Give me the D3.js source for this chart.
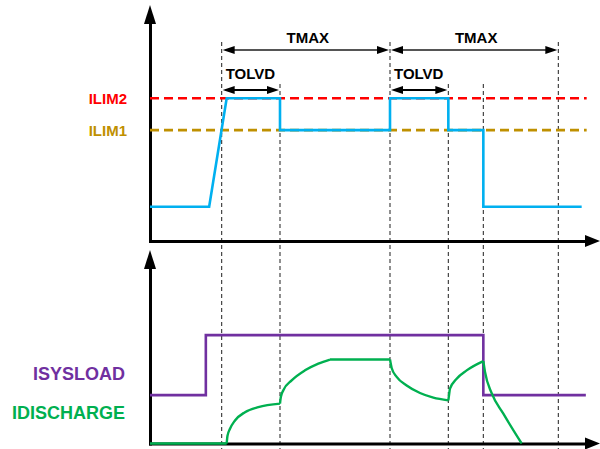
<!DOCTYPE html>
<html>
  <head>
  <title>Current limit timing</title>
  </head>
  <body>
  <style>
    body, html {
      margin: 0;
      padding: 0;
      background: #fff;
    }
    text {
      font-family: "Liberation Sans", Arial, sans-serif;
      font-weight: bold;
    }
  </style>

  <svg id="svg" width="600" height="449"></svg>

  <script src="https://cdn.jsdelivr.net/npm/d3@7"></script>
  <script>
    // time axis is in arbitrary units, current in arbitrary units
    const limitLevels = [
      { name: 'ILIM2', value: 6.05, color: '#ff0000' },
      { name: 'ILIM1', value: 4.7, color: '#bf9000' }
    ]

    // input current (top panel)
    const inputCurrent = [
      [0, 1.45], [3.55, 1.45], [4.6, 6.05], [7.8, 6.05], [7.8, 4.7],
      [14.4, 4.7], [14.4, 6.05], [17.9, 6.05], [17.9, 4.7],
      [20, 4.7], [20, 1.45], [25.9, 1.45]
    ]

    // system load (bottom panel)
    const sysLoad = [
      [0, 2.5], [3.35, 2.5], [3.35, 5.6], [20, 5.6], [20, 2.5], [26.15, 2.5]
    ]

    // battery discharge current, one array per smooth piece
    const discharge = [
      [[0, 0], [4.6, 0]],
      [[4.6, 0], [4.65, 0.4], [4.8, 0.76], [5.1, 1.19], [5.7, 1.62], [6.5, 1.88], [7.8, 2.06]],
      [[7.8, 2.06], [7.85, 2.4], [8.0, 2.75], [8.5, 3.26], [9.3, 3.78], [10.1, 4.13], [10.8, 4.34]],
      [[10.8, 4.34], [14.4, 4.34]],
      [[14.4, 4.34], [14.5, 3.9], [14.8, 3.44], [15.4, 3.0], [16.2, 2.61], [17.0, 2.37], [17.9, 2.23]],
      [[17.9, 2.23], [17.95, 2.55], [18.0, 2.83], [18.4, 3.35], [19.0, 3.78], [20, 4.26]],
      [[20, 4.26], [20.1, 3.7], [20.5, 2.6], [21.2, 1.54], [22.3, 0]]
    ]

    // vertical timing markers
    const markers = [
      { t: 4.3, level: 'tmax' },
      { t: 7.8, level: 'tolvd' },
      { t: 14.4, level: 'tmax' },
      { t: 17.9, level: 'tolvd' },
      { t: 20, level: 'tolvd' },
      { t: 24.5, level: 'tmax' }
    ]

    const spans = [
      { label: 'TMAX', from: 4.3, to: 14.4, kind: 'tmax' },
      { label: 'TMAX', from: 14.4, to: 24.5, kind: 'tmax' },
      { label: 'TOLVD', from: 4.3, to: 7.8, kind: 'tolvd' },
      { label: 'TOLVD', from: 14.4, to: 17.9, kind: 'tolvd' }
    ]

    const seriesLabels = [
      { name: 'ISYSLOAD', color: '#7030a0' },
      { name: 'IDISCHARGE', color: '#00b050' }
    ]

    const svg = d3.select('#svg')

    const xScale = d3.scaleLinear().domain([0, 27]).range([150, 600])
    const yTop = d3.scaleLinear().domain([0, 10]).range([241, 5])
    const yBot = d3.scaleLinear().domain([0, 10]).range([443.5, 250])

    const markerTop = { tmax: 42, tolvd: 84 }
    const spanY = { tmax: 50, tolvd: 90 }
    const labelY = { tmax: 43, tolvd: 78.5 }

    // dashed timing markers, drawn first so everything sits on top
    svg.append('g')
      .selectAll('line')
      .data(markers)
      .join('line')
      .attr('x1', d => xScale(d.t))
      .attr('x2', d => xScale(d.t))
      .attr('y1', d => markerTop[d.level])
      .attr('y2', 449)
      .attr('stroke', '#333')
      .attr('stroke-width', 1.1)
      .attr('stroke-dasharray', '4,3')

    // axes: plain lines from d3 axes, with no ticks
    function drawAxes(yScale, xAxisY, yTopPx) {
      const xAx = d3.axisBottom(xScale.copy().range([150, 588]))
        .tickValues([]).tickSizeOuter(0)
      const yAx = d3.axisLeft(yScale.copy().range([yScale.range()[0], yTopPx + 18]))
        .tickValues([]).tickSizeOuter(0)
      svg.append('g')
        .attr('transform', `translate(0, ${xAxisY})`)
        .call(xAx)
        .select('.domain')
        .attr('stroke', '#000')
        .attr('stroke-width', 3)
        .attr('stroke-linecap', 'square')
      svg.append('g')
        .attr('transform', 'translate(150, 0)')
        .call(yAx)
        .select('.domain')
        .attr('stroke', '#000')
        .attr('stroke-width', 3)
        .attr('stroke-linecap', 'square')

      // arrow heads
      svg.append('path')
        .attr('d', `M150,${yTopPx} L156,${yTopPx + 19} L144,${yTopPx + 19} Z`)
        .attr('fill', '#000')
      svg.append('path')
        .attr('d', `M600,${xAxisY} L585,${xAxisY - 6} L585,${xAxisY + 6} Z`)
        .attr('fill', '#000')
    }
    drawAxes(yTop, yTop(0), 5)
    drawAxes(yBot, yBot(0), 250)

    // current limit levels
    svg.append('g')
      .selectAll('line')
      .data(limitLevels)
      .join('line')
      .attr('x1', xScale(0))
      .attr('x2', xScale(26.2))
      .attr('y1', d => yTop(d.value))
      .attr('y2', d => yTop(d.value))
      .attr('stroke', d => d.color)
      .attr('stroke-width', 2.6)
      .attr('stroke-dasharray', '9,5')

    svg.append('g')
      .selectAll('text')
      .data(limitLevels)
      .join('text')
      .attr('x', 127)
      .attr('y', d => yTop(d.value) + 5.5)
      .attr('text-anchor', 'end')
      .attr('fill', d => d.color)
      .style('font-size', '15px')
      .text(d => d.name)

    const line = d3.line().x(d => xScale(d[0]))

    svg.append('path')
      .attr('d', line.y(d => yTop(d[1])).curve(d3.curveLinear)(inputCurrent))
      .attr('fill', 'none')
      .attr('stroke', '#00b0f0')
      .attr('stroke-width', 2.6)

    svg.append('path')
      .attr('d', line.y(d => yBot(d[1])).curve(d3.curveLinear)(sysLoad))
      .attr('fill', 'none')
      .attr('stroke', '#7030a0')
      .attr('stroke-width', 2.6)

    const smooth = d3.line()
      .x(d => xScale(d[0]))
      .y(d => yBot(d[1]))
      .curve(d3.curveMonotoneX)
    svg.append('path')
      .attr('d', discharge.map(s => smooth(s)).join(''))
      .attr('fill', 'none')
      .attr('stroke', '#00b050')
      .attr('stroke-width', 2.4)
      .attr('stroke-linejoin', 'round')

    // span arrows
    const spanG = svg.append('g')
    spans.forEach(s => {
      const x0 = xScale(s.from)
      const x1 = xScale(s.to)
      const y = spanY[s.kind]
      spanG.append('line')
        .attr('x1', x0 + 4).attr('x2', x1 - 4)
        .attr('y1', y).attr('y2', y)
        .attr('stroke', s.kind === 'tmax' ? '#555' : '#000')
        .attr('stroke-width', 1.8)
      spanG.append('path')
        .attr('d', `M${x0 + 1},${y} l12,-4 l0,8 Z M${x1 - 1},${y} l-12,-4 l0,8 Z`)
        .attr('fill', '#000')
      spanG.append('text')
        .attr('x', s.kind === 'tmax' ? (x0 + x1) / 2 + 2 : x0 + 4)
        .attr('y', labelY[s.kind])
        .attr('text-anchor', s.kind === 'tmax' ? 'middle' : 'start')
        .attr('fill', '#000')
        .style('font-size', '15px')
        .text(s.label)
    })

    // bottom panel series names
    svg.append('g')
      .selectAll('text')
      .data(seriesLabels)
      .join('text')
      .attr('x', 125)
      .attr('y', (d, i) => 379.5 + i * 39.5)
      .attr('text-anchor', 'end')
      .attr('fill', d => d.color)
      .style('font-size', '18px')
      .text(d => d.name)
  </script>
  </body>
</html>
